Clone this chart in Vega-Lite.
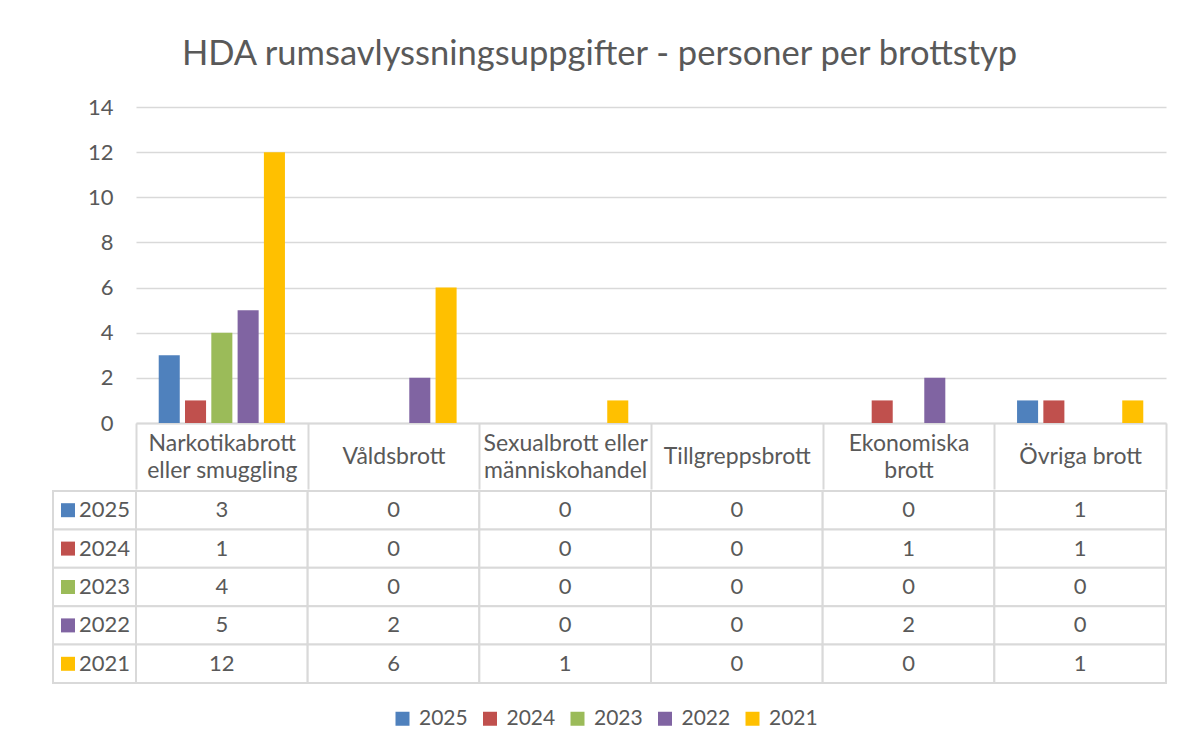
{
  "$schema": "https://vega.github.io/schema/vega-lite/v6.json",
  "padding": {"left": 52, "top": 36, "right": 30, "bottom": 10},
  "background": "white",
  "title": {"text": "HDA rumsavlyssningsuppgifter - personer per brottstyp", "font": "Lato", "fontSize": 34.5, "fontWeight": "normal", "color": "#595959", "anchor": "middle", "offset": 24, "dx": -10},
  "config": {"view": {"stroke": null}, "font": "Lato"},
  "datasets": {
    "varden": [
      {"brottstyp": "Narkotikabrott eller smuggling", "ar": "2025", "antal": 3},
      {"brottstyp": "Narkotikabrott eller smuggling", "ar": "2024", "antal": 1},
      {"brottstyp": "Narkotikabrott eller smuggling", "ar": "2023", "antal": 4},
      {"brottstyp": "Narkotikabrott eller smuggling", "ar": "2022", "antal": 5},
      {"brottstyp": "Narkotikabrott eller smuggling", "ar": "2021", "antal": 12},
      {"brottstyp": "Våldsbrott", "ar": "2025", "antal": 0},
      {"brottstyp": "Våldsbrott", "ar": "2024", "antal": 0},
      {"brottstyp": "Våldsbrott", "ar": "2023", "antal": 0},
      {"brottstyp": "Våldsbrott", "ar": "2022", "antal": 2},
      {"brottstyp": "Våldsbrott", "ar": "2021", "antal": 6},
      {"brottstyp": "Sexualbrott eller människohandel", "ar": "2025", "antal": 0},
      {"brottstyp": "Sexualbrott eller människohandel", "ar": "2024", "antal": 0},
      {"brottstyp": "Sexualbrott eller människohandel", "ar": "2023", "antal": 0},
      {"brottstyp": "Sexualbrott eller människohandel", "ar": "2022", "antal": 0},
      {"brottstyp": "Sexualbrott eller människohandel", "ar": "2021", "antal": 1},
      {"brottstyp": "Tillgreppsbrott", "ar": "2025", "antal": 0},
      {"brottstyp": "Tillgreppsbrott", "ar": "2024", "antal": 0},
      {"brottstyp": "Tillgreppsbrott", "ar": "2023", "antal": 0},
      {"brottstyp": "Tillgreppsbrott", "ar": "2022", "antal": 0},
      {"brottstyp": "Tillgreppsbrott", "ar": "2021", "antal": 0},
      {"brottstyp": "Ekonomiska brott", "ar": "2025", "antal": 0},
      {"brottstyp": "Ekonomiska brott", "ar": "2024", "antal": 1},
      {"brottstyp": "Ekonomiska brott", "ar": "2023", "antal": 0},
      {"brottstyp": "Ekonomiska brott", "ar": "2022", "antal": 2},
      {"brottstyp": "Ekonomiska brott", "ar": "2021", "antal": 0},
      {"brottstyp": "Övriga brott", "ar": "2025", "antal": 1},
      {"brottstyp": "Övriga brott", "ar": "2024", "antal": 1},
      {"brottstyp": "Övriga brott", "ar": "2023", "antal": 0},
      {"brottstyp": "Övriga brott", "ar": "2022", "antal": 0},
      {"brottstyp": "Övriga brott", "ar": "2021", "antal": 1}
    ],
    "ar": [{"ar": "2025"}, {"ar": "2024"}, {"ar": "2023"}, {"ar": "2022"}, {"ar": "2021"}]
  },
  "spacing": 0,
  "vconcat": [
    {
      "spacing": 0,
      "bounds": "flush",
      "hconcat": [
        {"width": 83, "height": 316, "data": {"values": []}, "mark": "point"},
        {
          "width": 1030,
          "height": 316,
          "data": {"name": "varden"},
          "mark": {"type": "bar"},
          "encoding": {
            "x": {"field": "brottstyp", "type": "nominal", "scale": {"domain": ["Narkotikabrott eller smuggling", "Våldsbrott", "Sexualbrott eller människohandel", "Tillgreppsbrott", "Ekonomiska brott", "Övriga brott"], "paddingInner": 0, "paddingOuter": 0},
              "axis": {"orient": "bottom", "title": null, "domain": true, "domainColor": "#d9d9d9", "domainWidth": 2, "ticks": true, "tickBand": "extent", "tickSize": 66, "tickColor": "#d9d9d9", "tickWidth": 2, "labelAngle": 0, "labelFont": "Lato", "labelFontSize": 23, "labelColor": "#595959", "labelBaseline": "middle", "labelLineHeight": 27, "labelLimit": 300, "labelOverlap": false,
                "labelPadding": {"condition": {"test": "datum.value == 'Våldsbrott' || datum.value == 'Tillgreppsbrott' || datum.value == 'Övriga brott'", "value": -32.5}, "value": -46},
                "labelExpr": "datum.label == 'Narkotikabrott eller smuggling' ? ['Narkotikabrott', 'eller smuggling'] : datum.label == 'Sexualbrott eller människohandel' ? ['Sexualbrott eller', 'människohandel'] : datum.label == 'Ekonomiska brott' ? ['Ekonomiska', 'brott'] : datum.label"}},
            "xOffset": {"field": "ar", "type": "nominal", "scale": {"domain": ["2025", "2024", "2023", "2022", "2021"], "paddingInner": 0.2, "paddingOuter": 0.864}},
            "y": {"field": "antal", "type": "quantitative", "scale": {"domain": [0, 14]}, "axis": {"values": [0, 2, 4, 6, 8, 10, 12, 14], "title": null, "domain": false, "ticks": false, "tickSize": 0, "labelPadding": 23, "labelFont": "Lato", "labelFontSize": 22, "labelColor": "#595959", "gridColor": "#d9d9d9", "gridWidth": 1.5}},
            "color": {"field": "ar", "type": "nominal", "scale": {"domain": ["2025", "2024", "2023", "2022", "2021"], "range": ["#4F81BD", "#C0504D", "#9BBB59", "#8064A2", "#FFC000"]}, "legend": {"orient": "none", "legendX": 339, "legendY": 601, "direction": "horizontal", "title": null, "symbolType": "square", "symbolSize": 196, "symbolStrokeWidth": 0, "labelFont": "Lato", "labelFontSize": 21, "labelColor": "#595959", "labelOffset": 6, "columnPadding": 11.5}}
          }
        }
      ]
    },
    {
      "spacing": 0,
      "bounds": "flush",
      "hconcat": [
        {
          "width": 83,
          "height": 192,
          "data": {"name": "ar"},
          "encoding": {
            "y": {"field": "ar", "type": "nominal", "scale": {"domain": ["2025", "2024", "2023", "2022", "2021"], "paddingInner": 0, "paddingOuter": 0}, "axis": null}
          },
          "layer": [
            {"mark": {"type": "rect", "fill": "white", "stroke": "#d9d9d9", "strokeWidth": 2}},
            {"mark": {"type": "point", "shape": "square", "size": 196, "filled": true, "opacity": 1, "xOffset": -26.5}, "encoding": {"color": {"field": "ar", "type": "nominal", "scale": {"domain": ["2025", "2024", "2023", "2022", "2021"], "range": ["#4F81BD", "#C0504D", "#9BBB59", "#8064A2", "#FFC000"]}}}},
            {"mark": {"type": "text", "font": "Lato", "fontSize": 22, "color": "#595959", "dx": 10}, "encoding": {"text": {"field": "ar"}}}
          ]
        },
        {
          "width": 1030,
          "height": 192,
          "data": {"name": "varden"},
          "encoding": {
            "x": {"field": "brottstyp", "type": "nominal", "scale": {"domain": ["Narkotikabrott eller smuggling", "Våldsbrott", "Sexualbrott eller människohandel", "Tillgreppsbrott", "Ekonomiska brott", "Övriga brott"], "paddingInner": 0, "paddingOuter": 0}, "axis": null},
            "y": {"field": "ar", "type": "nominal", "scale": {"domain": ["2025", "2024", "2023", "2022", "2021"], "paddingInner": 0, "paddingOuter": 0}, "axis": null}
          },
          "layer": [
            {"mark": {"type": "rect", "fill": "white", "stroke": "#d9d9d9", "strokeWidth": 2}},
            {"mark": {"type": "text", "font": "Lato", "fontSize": 22, "color": "#595959"}, "encoding": {"text": {"field": "antal", "type": "quantitative"}}}
          ]
        }
      ]
    }
  ]
}
